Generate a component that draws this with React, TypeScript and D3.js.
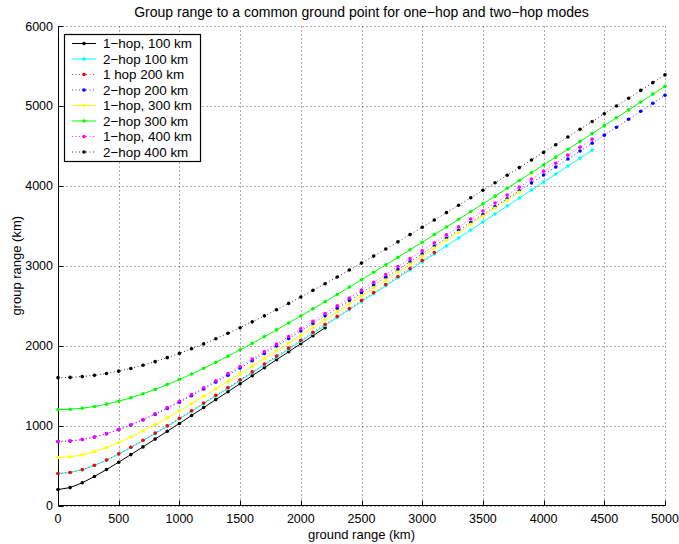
import React from 'react';
import * as d3 from 'd3';

const groundRangeKm = [0,100,200,300,400,500,600,700,800,900,1000,1100,1200,1300,1400,1500,1600,1700,1800,1900,2000,2100,2200,2300,2400,2500,2600,2700,2800,2900,3000,3100,3200,3300,3400,3500,3600,3700,3800,3900,4000,4100,4200,4300,4400,4500,4600,4700,4800,4900,5000];

const hop1_100 = [200,224,284,363,450,542,637,733,831,929,1027,1126,1225,1325,1424,1524,1624,1724,1824,1924,2024,2124,2224];
const hop2_100 = [400,413,448,501,568,643,725,811,900,991,1084,1179,1274,1370,1466,1564,1661,1759,1857,1956,2054,2153,2252,2352,2451,2550,2650,2749,2849,2948,3048,3148,3248,3348,3447,3547,3647,3747,3847,3947,4047,4147,4247,4347,4447];
const hop1_200 = [400,413,449,503,570,646,729,816,906,998,1091,1186,1282,1379,1476,1574,1672,1771,1870,1969,2068,2168,2267,2367,2466,2566,2666,2766,2866,2966,3066,3166];
const hop2_200 = [800,806,825,856,897,948,1006,1070,1140,1215,1293,1374,1458,1544,1631,1720,1811,1903,1995,2089,2183,2277,2373,2468,2565,2661,2758,2855,2953,3050,3148,3247,3345,3443,3542,3641,3740,3839,3938,4037,4136,4236,4335,4435,4534,4634,4733,4833,4933,5033,5133];
const hop1_300 = [600,609,634,674,726,789,858,934,1015,1099,1186,1275,1366,1459,1553,1647,1743,1839,1936,2033,2131,2229,2327,2426,2525,2624,2723,2822,2922,3021,3121,3221,3321,3420,3520,3620,3720,3820,3920];
const hop2_300 = [1200,1204,1217,1239,1268,1305,1348,1398,1453,1513,1577,1645,1717,1791,1869,1948,2030,2113,2198,2284,2372,2461,2551,2641,2733,2825,2918,3011,3105,3200,3294,3390,3485,3582,3678,3775,3871,3969,4066,4164,4261,4359,4458,4556,4654,4753,4851,4950,5049,5148,5247];
const hop1_400 = [800,807,826,858,900,952,1011,1077,1149,1225,1305,1388,1473,1560,1650,1740,1832,1925,2019,2114,2210,2306,2402,2499,2597,2695,2793,2891,2990,3089,3188,3287,3386,3486,3585,3685,3785,3884,3984,4084,4184,4284,4384,4484,4584];
const hop2_400 = [1600,1603,1613,1630,1652,1681,1715,1755,1800,1850,1903,1961,2022,2087,2155,2225,2298,2373,2450,2529,2609,2692,2775,2860,2946,3033,3121,3209,3299,3390,3481,3572,3665,3757,3851,3945,4039,4133,4228,4324,4419,4515,4611,4708,4805,4902,4999,5096,5194,5291,5389];

const seriesLabels = ['1\u2212hop, 100 km', '2\u2212hop 100 km', '1 hop 200 km', '2\u2212hop 200 km', '1\u2212hop, 300 km', '2\u2212hop 300 km', '1\u2212hop, 400 km', '2\u2212hop 400 km'];
const seriesValues = [hop1_100, hop2_100, hop1_200, hop2_200, hop1_300, hop2_300, hop1_400, hop2_400];

const xTicks = [0,500,1000,1500,2000,2500,3000,3500,4000,4500,5000];
const yTicks = [0,1000,2000,3000,4000,5000,6000];

const titleText = 'Group range to a common ground point for one\u2212hop and two\u2212hop modes';
const xLabelText = 'ground range (km)';
const yLabelText = 'group range (km)';

// styles
const seriesColors = ['#000000', '#00ffff', '#ff0000', '#0000ff', '#ffff00', '#00ff00', '#ff00ff', '#000000'];
const seriesDotted = [false, false, true, true, false, false, true, true];

const W = 679, H = 544;
const FONT = '"Liberation Sans", Arial, Helvetica, sans-serif';

export default function App() {
  const x = d3.scaleLinear().domain([0, 5000]).range([58, 665]);
  const y = d3.scaleLinear().domain([0, 6000]).range([505.5, 26]);
  const px = (v: number) => Math.round(x(v)) + 0.5;
  const py = (v: number) => Math.round(y(v)) + 0.5;
  const left = 58.5, bottom = 505.5, top = py(6000), right = px(5000);

  const line = d3.line<[number, number]>().x(d => x(d[0])).y(d => y(d[1]));

  const legendX = 64.5, legendY = 34.5, legendW = 136, legendH = 127;

  return (
    <svg width={W} height={H} style={{ position: 'absolute', left: 0, top: 0, background: '#fff' }} fontFamily={FONT}>
      <rect x={0} y={0} width={W} height={H} fill="#fff" />
      {/* grid */}
      {xTicks.map(t => (
        <line key={'gx' + t} x1={px(t)} x2={px(t)} y1={top} y2={bottom} stroke="#333" strokeWidth={0.8} strokeDasharray="1 3" />
      ))}
      {yTicks.map(t => (
        <line key={'gy' + t} x1={left} x2={right} y1={py(t)} y2={py(t)} stroke="#333" strokeWidth={0.8} strokeDasharray="1 3" />
      ))}
      {/* axes */}
      <line x1={left} x2={left} y1={top} y2={bottom} stroke="#000" strokeWidth={1} />
      <line x1={left} x2={right} y1={bottom} y2={bottom} stroke="#000" strokeWidth={1} />
      {xTicks.map(t => (
        <g key={'tx' + t}>
          <line x1={px(t)} x2={px(t)} y1={bottom} y2={bottom - 5} stroke="#000" />
          <text x={x(t)} y={523} fontSize={12.5} textAnchor="middle" fill="#000">{t}</text>
        </g>
      ))}
      {yTicks.map(t => (
        <g key={'ty' + t}>
          <line x1={left} x2={left + 5} y1={py(t)} y2={py(t)} stroke="#000" />
          <text x={53} y={y(t) + 4.5} fontSize={12.5} textAnchor="end" fill="#000">{t}</text>
        </g>
      ))}
      {/* series */}
      {seriesValues.map((vals, i) => {
        const pts: [number, number][] = vals.map((v, j) => [groundRangeKm[j], v]);
        return (
          <g key={'s' + i}>
            <path d={line(pts) || ''} fill="none" stroke={seriesColors[i]} strokeWidth={seriesDotted[i] ? 0.8 : 1}
              strokeDasharray={seriesDotted[i] ? '1 2.5' : undefined} />
            {pts.map((p, j) => (
              <circle key={j} cx={x(p[0])} cy={y(p[1])} r={1.8} fill={seriesColors[i]} />
            ))}
          </g>
        );
      })}
      {/* legend */}
      <rect x={legendX} y={legendY} width={legendW} height={legendH} fill="#fff" stroke="#000" strokeWidth={1.2} />
      {seriesLabels.map((lab, i) => {
        const ry = 43.5 + i * 15.5;
        return (
          <g key={'l' + i}>
            <line x1={72} x2={96} y1={ry} y2={ry} stroke={seriesColors[i]} strokeWidth={seriesDotted[i] ? 0.8 : 1}
              strokeDasharray={seriesDotted[i] ? '1 2.5' : undefined} />
            <circle cx={84} cy={ry} r={1.8} fill={seriesColors[i]} />
            <text x={103} y={ry + 4.8} fontSize={13.4} fill="#000">{lab}</text>
          </g>
        );
      })}
      {/* titles */}
      <text x={(x(0) + x(5000)) / 2} y={16.5} fontSize={14} textAnchor="middle" fill="#000">{titleText}</text>
      <text x={(x(0) + x(5000)) / 2} y={538.5} fontSize={13} textAnchor="middle" fill="#000">{xLabelText}</text>
      <text transform={`translate(20.5,${(y(0) + y(6000)) / 2}) rotate(-90)`} fontSize={13} textAnchor="middle" fill="#000">{yLabelText}</text>
    </svg>
  );
}
